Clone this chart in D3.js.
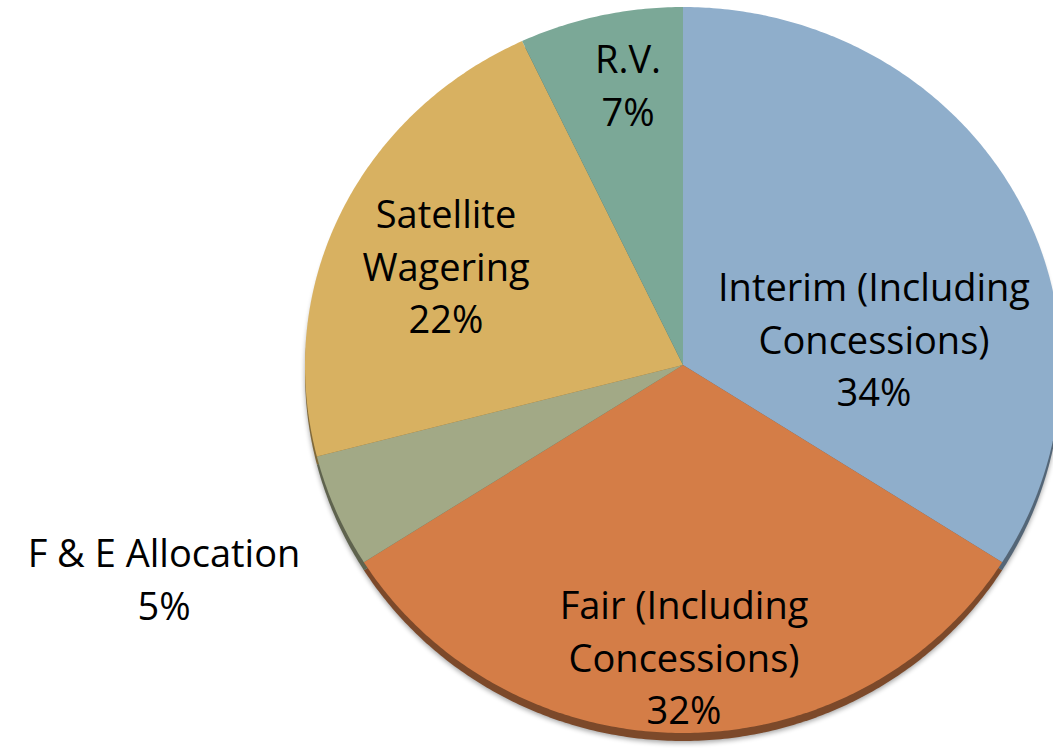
<!DOCTYPE html>
<html>
<head>
<meta charset="utf-8">
<script src="https://cdn.jsdelivr.net/npm/d3@7"></script>
<style>
  body { margin: 0; background: #fff; }
  text { font-family: "Open Sans", sans-serif; fill: #000; }
</style>
</head>
<body>
<div id="chart-area"></div>
<script>
var categories = ["Interim (Including Concessions)", "Fair (Including Concessions)", "F & E Allocation", "Satellite Wagering", "R.V."];
var values = [34, 32, 5, 22, 7];
var labelLines = [["Interim (Including", "Concessions)", "34%"],
                  ["Fair (Including", "Concessions)", "32%"],
                  ["F & E Allocation", "5%"],
                  ["Satellite", "Wagering", "22%"],
                  ["R.V.", "7%"]];
var colors = ["#8faecb", "#d47d47", "#a2a986", "#d8b161", "#7ba897"];

var width = 1053, height = 756;
// tilted pie: far half looks a bit flatter than the near half
var cx = 683, cy = 365, rx = 378, ryTop = 358, ryBot = 368, depth = 8;

// where each label block is centred (first baseline)
var labelPos = [[874, 301], [684, 619], [164, 567], [446, 228], [628, 73]];

var svg = d3.select("#chart-area").append("svg")
    .attr("width", width)
    .attr("height", height);

var defs = svg.append("defs");
defs.append("filter").attr("id", "blur")
    .append("feGaussianBlur").attr("stdDeviation", 2.5);

var pie = d3.pie().sort(null).value(function(d){ return d; });
var arcs = pie(values);

function project(a, dy){
    var c = Math.cos(a);
    return [cx + rx * Math.sin(a), cy + dy - c * (c > 0 ? ryTop : ryBot)];
}

var line = d3.line();
function slicePath(d, dy){
    var pts = [[cx, cy + dy]];
    var n = Math.max(8, Math.ceil((d.endAngle - d.startAngle) / 0.01));
    d3.range(n + 1).forEach(function(k){
        pts.push(project(d.startAngle + (d.endAngle - d.startAngle) * k / n, dy));
    });
    return line(pts) + "Z";
}

// soft shadow under the pie
svg.append("path")
    .attr("d", slicePath({startAngle: 0, endAngle: 2 * Math.PI}, depth + 2))
    .attr("fill", "#000").attr("opacity", 0.35)
    .attr("filter", "url(#blur)");

// side of the pie
svg.append("g").selectAll("path")
    .data(arcs)
    .enter().append("path")
    .attr("d", function(d){ return slicePath(d, depth); })
    .attr("fill", function(d, i){ return d3.color(colors[i]).darker(1.5); });

// top face
svg.append("g").selectAll("path")
    .data(arcs)
    .enter().append("path")
    .attr("d", function(d){ return slicePath(d, 0); })
    .attr("fill", function(d, i){ return colors[i]; });

// labels
var lineH = 52.5;
labelLines.forEach(function(lines, i){
    var t = svg.append("text")
        .attr("text-anchor", "middle")
        .attr("font-size", "38px");
    lines.forEach(function(l, j){
        t.append("tspan")
            .attr("x", labelPos[i][0])
            .attr("y", labelPos[i][1] + j * lineH)
            .text(l);
    });
});
</script>
</body>
</html>
